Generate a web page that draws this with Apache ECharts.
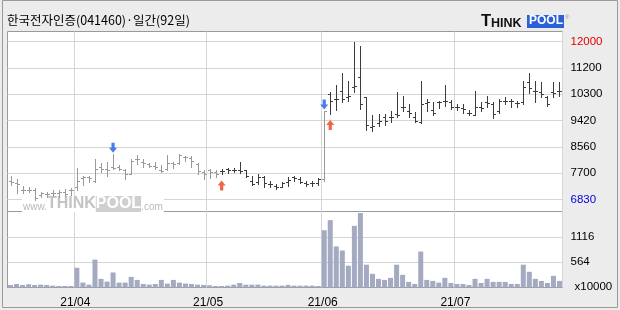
<!DOCTYPE html>
<html><head><meta charset="utf-8">
<script src="https://cdn.jsdelivr.net/npm/echarts@6/dist/echarts.min.js"></script>
<style>html,body{margin:0;padding:0;background:#ececec}#c{width:620px;height:310px}</style>
</head><body><div id="c"></div>
<script>
const dates = [
 '21/03/17','21/03/18','21/03/19','21/03/22','21/03/23','21/03/24','21/03/25','21/03/26','21/03/29','21/03/30','21/03/31',
 '21/04/01','21/04/02','21/04/05','21/04/06','21/04/07','21/04/08','21/04/09','21/04/12','21/04/13','21/04/14','21/04/15','21/04/16','21/04/19','21/04/20','21/04/21','21/04/22','21/04/23','21/04/26','21/04/27','21/04/28','21/04/29','21/04/30',
 '21/05/03','21/05/04','21/05/06','21/05/07','21/05/10','21/05/11','21/05/12','21/05/13','21/05/14','21/05/17','21/05/18','21/05/20','21/05/21','21/05/24','21/05/25','21/05/26','21/05/27','21/05/28','21/05/31',
 '21/06/01','21/06/02','21/06/03','21/06/04','21/06/07','21/06/08','21/06/09','21/06/10','21/06/11','21/06/14','21/06/15','21/06/16','21/06/17','21/06/18','21/06/21','21/06/22','21/06/23','21/06/24','21/06/25','21/06/28','21/06/29','21/06/30',
 '21/07/01','21/07/02','21/07/05','21/07/06','21/07/07','21/07/08','21/07/09','21/07/12','21/07/13','21/07/14','21/07/15','21/07/16','21/07/19','21/07/20','21/07/21','21/07/22','21/07/23','21/07/26'
];
const openP = [7450,7380,7150,7150,7125,6990,7010,7040,7030,7080,
 7150,7230,7530,7560,7450,7880,7830,7885,7880,7800,
 7650,8160,8070,8000,7940,7780,7830,8020,8020,8215,
 8180,8000,7725,7780,7725,7755,7830,7780,7780,7780,
 7450,7395,7560,7340,7285,7255,7395,7560,7485,7365,
 7365,7365,7505,10290,10125,10396,10200,10505,10830,10180,
 9195,9330,9525,9525,9630,9850,9740,9525,9360,9980,
 9765,10015,10070,10015,9870,9830,9655,9600,9850,10015,
 9960,9740,10070,10070,9980,10015,10670,10396,10340,10180,
 10340,10396];
const highP = [7590,7485,7285,7255,7210,7070,7080,7125,7125,7180,
 7200,7865,7590,7615,8140,8020,8050,8325,7965,7830,
 8160,8300,8160,8030,8050,7965,8300,8050,8320,8270,
 8240,8020,7780,7830,7780,7830,7865,7855,8070,7800,
 7590,7670,7615,7420,7340,7395,7580,7590,7560,7450,
 7420,7525,9740,10340,10590,10964,10700,12000,11870,10200,
 9600,9630,9630,9740,10340,10230,9960,9690,10700,10125,
 10015,10070,10590,10090,9960,9940,9765,10396,10015,10230,
 10015,10125,10200,10125,10070,10700,10964,10700,10670,10230,
 10670,10670];
const lowP = [7320,7035,7045,7070,6830,6905,6905,6940,6905,6940,
 6990,7125,7310,7395,7395,7725,7590,7830,7800,7505,
 7650,8000,7910,7910,7830,7725,7800,7865,8000,8105,
 7910,7670,7505,7540,7560,7650,7690,7725,7690,7580,
 7320,7340,7230,7255,7180,7230,7285,7420,7365,7285,
 7285,7320,7430,9630,9765,10015,10050,10340,9800,9110,
 9065,9250,9270,9360,9525,9740,9525,9360,9330,9740,
 9580,9830,9905,9800,9765,9655,9580,9580,9720,9850,
 9500,9655,9940,9870,9870,9940,10310,10015,10200,9905,
 10200,10230];
const closeP = [7400,7350,7150,7150,6880,7030,7020,7050,7060,7020,
 7140,7450,7560,7550,7830,7830,7800,7860,7840,7650,
 8100,8160,8020,7930,7910,7770,8020,8000,8300,8215,
 8080,7760,7670,7730,7650,7755,7780,7780,7755,7615,
 7340,7560,7365,7340,7255,7365,7470,7540,7395,7340,
 7365,7505,9720,10050,10125,10125,10230,10560,9960,9270,
 9220,9415,9415,9545,9580,9850,9655,9390,9940,10015,
 9655,10015,10050,9870,9870,9800,9655,9850,9830,9980,
 9630,10070,10050,10070,9980,10505,10480,10375,10290,9940,
 10310,10375];
const volume = [56,78,56,71,56,63,56,41,33,33,33,
 435,108,63,614,190,130,331,108,108,234,
 167,78,63,78,167,86,167,108,86,78,
 63,56,48,33,33,41,63,100,63,63,
 63,41,41,41,41,56,41,41,41,41,33,
 1261,1484,904,815,480,1358,1640,502,301,190,
 167,212,502,279,123,78,792,167,145,108,
 212,100,78,78,56,190,100,190,123,123,
 123,78,78,502,346,190,145,100,257,145];
const priceTickLabels = ['6830','7700','8560','9420','10300','11200','12000'];
const volumeTickLabels = ['x10000','564','1116',''];
const buySignals = [35, 53];
const sellSignals = [17, 52];
const titleText = '한국전자인증(041460)·일간(92일)';

const AXF = "'Liberation Sans',Arial,sans-serif";
const AXS = 11.5;
const isMonthStart = i => i > 0 && i < dates.length && dates[i].slice(0,5) !== dates[i-1].slice(0,5);

const barColor = [];
let state = 'sell';
for (let i = 0; i < dates.length; i++) {
  if (buySignals.includes(i)) state = 'buy';
  if (sellSignals.includes(i)) state = 'sell';
  barColor.push(state === 'buy' ? '#3c3c3c' : '#999999');
}
const ohlcData = dates.map((d, i) => [i, openP[i], highP[i], lowP[i], closeP[i]]);

const chart = echarts.init(document.getElementById('c'));
const L = 7.5, W = 555;
chart.setOption({
  animation: false,
  backgroundColor: '#ececec',
  grid: [
    {left: L, top: 31.5, width: W, height: 256, outerBoundsMode: 'none', containLabel: false, show: true, backgroundColor: '#fff', borderColor: '#9a9a9a', borderWidth: 1},
    {left: L, top: 41.5, width: W, height: 158, outerBoundsMode: 'none', containLabel: false},
    {left: L, top: 211.5, width: W, height: 76, outerBoundsMode: 'none', containLabel: false, show: true, backgroundColor: 'transparent', borderColor: '#9a9a9a', borderWidth: 1}
  ],
  xAxis: [
    {gridIndex: 0, type: 'category', data: dates, boundaryGap: true,
     axisLine: {show: false}, axisTick: {show: false}, axisLabel: {show: false},
     splitLine: {show: true, interval: (i) => isMonthStart(i), lineStyle: {color: '#d6d6d6'}}},
    {gridIndex: 1, type: 'category', data: dates, boundaryGap: true, show: false},
    {gridIndex: 2, type: 'category', data: dates, boundaryGap: true,
     axisLine: {show: false}, axisTick: {show: false},
     axisLabel: {show: true, interval: (i) => isMonthStart(i), formatter: v => v.slice(0,5),
       fontFamily: AXF, fontSize: 12, color: '#000', margin: 9, padding: [0, 3, 0, 0]},
     splitLine: {show: false}}
  ],
  yAxis: [
    {gridIndex: 0, type: 'value', show: false, min: 0, max: 1},
    {gridIndex: 1, type: 'value', position: 'right', min: 6830, max: 12002, interval: 862,
     axisLine: {show: false}, axisTick: {show: false},
     splitLine: {show: true, lineStyle: {color: '#d6d6d6'}},
     axisLabel: {margin: 8, align: 'left',
       formatter: (v, idx) => {
         const t = priceTickLabels[idx] || '';
         if (idx === 0) return '{b|' + t + '}';
         if (idx === priceTickLabels.length - 1) return '{r|' + t + '}';
         return '{k|' + t + '}';
       },
       rich: {
         b: {color: '#0000e0', fontFamily: AXF, fontSize: AXS},
         r: {color: '#e00000', fontFamily: AXF, fontSize: AXS},
         k: {color: '#000', fontFamily: AXF, fontSize: AXS}
       }}},
    {gridIndex: 2, type: 'value', position: 'right', min: 0, max: 1674, interval: 558,
     axisLine: {show: false}, axisTick: {show: false},
     splitLine: {show: true, showMinLine: false, showMaxLine: false, lineStyle: {color: '#d6d6d6'}},
     axisLabel: {margin: 8, align: 'left',
       formatter: (v, idx) => idx === 0 ? '{x|' + volumeTickLabels[0] + '}' : '{k|' + (volumeTickLabels[idx] || '') + '}',
       rich: {
         x: {color: '#000', fontFamily: AXF, fontSize: AXS, padding: [0, 0, 2, 4]},
         k: {color: '#000', fontFamily: AXF, fontSize: AXS}
       }}}
  ],
  series: [
    {type: 'custom', xAxisIndex: 1, yAxisIndex: 1, z: 3,
     encode: {x: 0, y: [1, 2, 3, 4]},
     data: ohlcData,
     renderItem: (params, api) => {
       const i = api.value(0);
       const c = barColor[params.dataIndex];
       const px = api.coord([i, api.value(2)]);
       const x = Math.round(px[0]) + 0.5;
       const yh = Math.round(px[1]) + 0.5;
       const yl = Math.round(api.coord([i, api.value(3)])[1]) + 0.5;
       const yo = Math.round(api.coord([i, api.value(1)])[1]) + 0.5;
       const yc = Math.round(api.coord([i, api.value(4)])[1]) + 0.5;
       const st = {stroke: c, lineWidth: 1};
       return {type: 'group', children: [
         {type: 'line', shape: {x1: x, y1: yh - 0.5, x2: x, y2: yl + 0.5}, style: st},
         {type: 'line', shape: {x1: x - 2.5, y1: yo, x2: x, y2: yo}, style: st},
         {type: 'line', shape: {x1: x, y1: yc, x2: x + 2.5, y2: yc}, style: st}
       ]};
     }},
    {type: 'scatter', xAxisIndex: 1, yAxisIndex: 1, z: 4, silent: true,
     symbol: 'path://M3,0 L7,0 L7,5 L10,5 L5,10 L0,5 L3,5 Z', symbolSize: [8, 10], symbolOffset: [0, -6],
     itemStyle: {color: '#1d5de6'},
     data: sellSignals.map(i => [i, highP[i]])},
    {type: 'scatter', xAxisIndex: 1, yAxisIndex: 1, z: 4, silent: true,
     symbol: 'path://M5,0 L10,5 L7,5 L7,10 L3,10 L3,5 L0,5 Z', symbolSize: [8, 10], symbolOffset: [0, 11],
     itemStyle: {color: '#ec3f17'},
     data: buySignals.map(i => [i, lowP[i]])},
    {type: 'bar', xAxisIndex: 2, yAxisIndex: 2, barWidth: 5, z: 3,
     itemStyle: {color: '#a3aac1'}, data: volume}
  ],
  graphic: [
    {type: 'rect', z: 0, silent: true, shape: {x: 2.5, y: 0.5, width: 615, height: 307},
     style: {fill: null, stroke: '#9a9a9a', lineWidth: 1}},
    {type: 'text', left: 7, top: 14, z: 5, silent: true,
     style: {text: titleText, font: "12.5px 'Noto Sans CJK KR'", fill: '#000'}},
    {type: 'text', left: 481, top: 13, z: 5, silent: true,
     style: {text: '{t|T}{h|HINK}', rich: {
       t: {fontFamily: 'Liberation Sans', fontWeight: 'bold', fontSize: 16.5, fill: '#111', verticalAlign: 'bottom'},
       h: {fontFamily: 'Liberation Sans', fontWeight: 'bold', fontSize: 12.5, fill: '#111', verticalAlign: 'bottom'}}}},
    {type: 'rect', z: 5, silent: true, shape: {x: 527, y: 15, width: 37, height: 13}, style: {fill: '#2b60d8'}},
    {type: 'text', left: 529, top: 15, z: 6, silent: true,
     style: {text: 'POOL', font: "bold 12px 'Liberation Sans'", fill: '#fff'}},
    {type: 'text', left: 565, top: 14, z: 6, silent: true,
     style: {text: '®', font: "6px 'Liberation Sans'", fill: '#999'}},
    {type: 'text', left: 22, top: 196, z: 2, silent: true,
     style: {text: '{w|www.}{t|THINK}{p|POOL}{c|.com}', backgroundColor: '#fff', padding: [0, 1, 0, 1], rich: {
       w: {fontFamily: 'Liberation Sans', fontSize: 10, fill: '#b9b9b9', verticalAlign: 'bottom'},
       t: {fontFamily: 'Liberation Sans', fontWeight: 'bold', fontSize: 16, fill: '#c4c4c4', verticalAlign: 'bottom'},
       p: {fontFamily: 'Liberation Sans', fontWeight: 'bold', fontSize: 16, fill: '#fff', backgroundColor: '#cfcfcf', verticalAlign: 'bottom'},
       c: {fontFamily: 'Liberation Sans', fontSize: 10, fill: '#b9b9b9', verticalAlign: 'bottom'}}}}
  ]
});
</script></body></html>
